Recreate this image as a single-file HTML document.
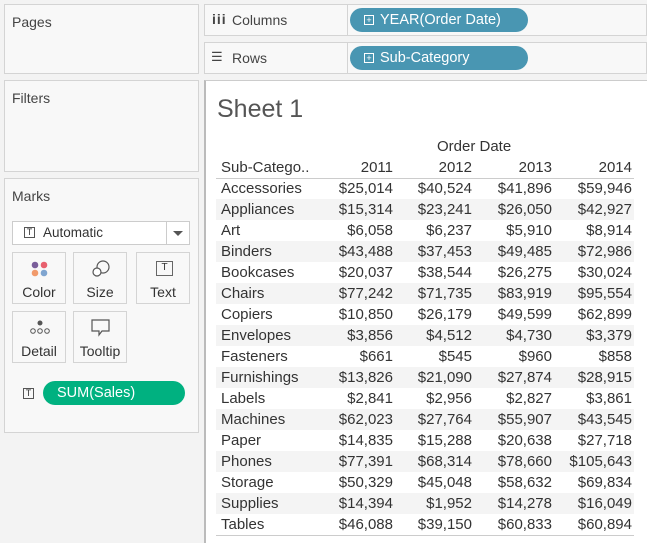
<!DOCTYPE html>
<html><head><style>
*{margin:0;padding:0;box-sizing:border-box}
body{width:647px;height:543px;background:#f3f3f3;font-family:"Liberation Sans",sans-serif;position:relative;overflow:hidden;color:#333}
.box{position:absolute;background:#f8f8f8;border:1px solid #d4d4d4}
.lbl{position:absolute;font-size:14px;color:#444}
.pill{position:absolute;background:#4996b2;color:#fff;border-radius:12px;font-size:14.5px;padding-left:14px;line-height:24px}
.pill span{display:inline-block;width:10px;height:10px;border:1px solid #fff;font-size:9px;line-height:8px;text-align:center;margin-right:6px;vertical-align:1px}
.btn{position:absolute;width:54px;height:52px;border:1px solid #d4d4d4;background:#f8f8f8;font-size:14px;text-align:center;color:#333}
.btn .t{position:absolute;bottom:3px;left:0;right:0}
.canvas{position:absolute;left:204px;top:80px;width:443px;height:463px;background:#fff;border-left:2px solid #bbb;border-top:1px solid #ccc}
table{position:absolute;left:10px;top:76px;border-collapse:collapse;font-size:15px;width:418px;table-layout:fixed}
td{height:21px;padding:0;text-align:right;white-space:nowrap}
td:first-child{text-align:left;padding-left:5px}
td:last-child{padding-right:2px}
tr.s td{background:#f4f4f4}
</style></head><body>
<div class="box" style="left:4px;top:4px;width:195px;height:70px"></div>
<div class="lbl" style="left:12px;top:14px">Pages</div>
<div class="box" style="left:4px;top:80px;width:195px;height:92px"></div>
<div class="lbl" style="left:12px;top:90px">Filters</div>
<div class="box" style="left:4px;top:178px;width:195px;height:255px"></div>
<div class="lbl" style="left:12px;top:188px">Marks</div>
<div style="position:absolute;left:12px;top:221px;width:178px;height:24px;border:1px solid #ccc;background:#fff;font-size:13.5px;line-height:22px;padding-left:30px">Automatic
<span style="position:absolute;left:11px;top:5px;width:11px;height:11px;border:1px solid #555;font-size:9px;line-height:9px;text-align:center">T</span>
<span style="position:absolute;right:0;top:0;width:23px;height:22px;border-left:1px solid #ccc"></span>
<span style="position:absolute;right:6px;top:9px;border-left:5px solid transparent;border-right:5px solid transparent;border-top:5px solid #555"></span></div>
<div class="btn" style="left:12px;top:252px"><svg style="position:absolute;left:18px;top:8px" width="18" height="18"><circle cx="4" cy="4" r="3.3" fill="#7a5e9a"/><circle cx="13" cy="4" r="3.3" fill="#e8606e"/><circle cx="4" cy="12" r="3.3" fill="#f19a6b"/><circle cx="13" cy="12" r="3.3" fill="#7fa5d0"/></svg><div class="t">Color</div></div>
<div class="btn" style="left:73px;top:252px"><svg style="position:absolute;left:17px;top:6px" width="20" height="20"><circle cx="12" cy="8" r="6" fill="none" stroke="#555" stroke-width="1.2"/><circle cx="6" cy="13" r="4" fill="#fff" stroke="#555" stroke-width="1.2"/></svg><div class="t">Size</div></div>
<div class="btn" style="left:136px;top:252px"><span style="position:absolute;left:19px;top:8px;width:17px;height:15px;border:1.5px solid #666;font-size:10px;line-height:12px">T</span><div class="t">Text</div></div>
<div class="btn" style="left:12px;top:311px"><svg style="position:absolute;left:16px;top:8px" width="22" height="16"><circle cx="11" cy="3" r="2.5" fill="#555"/><circle cx="4" cy="11" r="2.3" fill="none" stroke="#555"/><circle cx="11" cy="11" r="2.3" fill="none" stroke="#555"/><circle cx="18" cy="11" r="2.3" fill="none" stroke="#555"/></svg><div class="t">Detail</div></div>
<div class="btn" style="left:73px;top:311px"><svg style="position:absolute;left:17px;top:7px" width="20" height="18"><path d="M1 1H18V12H11L8 16V12H1Z" fill="none" stroke="#555" stroke-width="1.2"/></svg><div class="t">Tooltip</div></div>
<span style="position:absolute;left:23px;top:388px;width:11px;height:11px;border:1px solid #555;font-size:9px;line-height:9px;text-align:center">T</span>
<div style="position:absolute;left:43px;top:381px;width:142px;height:24px;border-radius:12px;background:#00b180;color:#fff;font-size:14.5px;line-height:24px;padding-left:14px">SUM(Sales)</div>

<div class="box" style="left:204px;top:4px;width:443px;height:32px"></div>
<div style="position:absolute;left:347px;top:5px;width:1px;height:30px;background:#d4d4d4"></div>
<div class="lbl" style="left:212px;top:11px;font-weight:bold;letter-spacing:1px">iii</div>
<div class="lbl" style="left:232px;top:12px">Columns</div>
<div class="pill" style="left:350px;top:8px;width:178px"><span>+</span>YEAR(Order Date)</div>
<div class="box" style="left:204px;top:42px;width:443px;height:32px"></div>
<div style="position:absolute;left:347px;top:43px;width:1px;height:30px;background:#d4d4d4"></div>
<div class="lbl" style="left:211px;top:49px;font-size:13px">&#9776;</div>
<div class="lbl" style="left:232px;top:50px">Rows</div>
<div class="pill" style="left:350px;top:46px;width:178px"><span>+</span>Sub-Category</div>

<div class="canvas">
<div style="position:absolute;left:11px;top:14px;font-size:25px;color:#555;font-weight:300">Sheet 1</div>
<div style="position:absolute;left:231px;top:57px;font-size:15px">Order Date</div>
<table>
<colgroup><col style="width:100px"><col style="width:77px"><col style="width:79px"><col style="width:80px"><col style="width:82px"></colgroup>
<tr style="border-bottom:1px solid #ccc"><td>Sub-Catego..</td><td>2011</td><td>2012</td><td>2013</td><td>2014</td></tr>
<tr><td>Accessories</td><td>$25,014</td><td>$40,524</td><td>$41,896</td><td>$59,946</td></tr>
<tr class="s"><td>Appliances</td><td>$15,314</td><td>$23,241</td><td>$26,050</td><td>$42,927</td></tr>
<tr><td>Art</td><td>$6,058</td><td>$6,237</td><td>$5,910</td><td>$8,914</td></tr>
<tr class="s"><td>Binders</td><td>$43,488</td><td>$37,453</td><td>$49,485</td><td>$72,986</td></tr>
<tr><td>Bookcases</td><td>$20,037</td><td>$38,544</td><td>$26,275</td><td>$30,024</td></tr>
<tr class="s"><td>Chairs</td><td>$77,242</td><td>$71,735</td><td>$83,919</td><td>$95,554</td></tr>
<tr><td>Copiers</td><td>$10,850</td><td>$26,179</td><td>$49,599</td><td>$62,899</td></tr>
<tr class="s"><td>Envelopes</td><td>$3,856</td><td>$4,512</td><td>$4,730</td><td>$3,379</td></tr>
<tr><td>Fasteners</td><td>$661</td><td>$545</td><td>$960</td><td>$858</td></tr>
<tr class="s"><td>Furnishings</td><td>$13,826</td><td>$21,090</td><td>$27,874</td><td>$28,915</td></tr>
<tr><td>Labels</td><td>$2,841</td><td>$2,956</td><td>$2,827</td><td>$3,861</td></tr>
<tr class="s"><td>Machines</td><td>$62,023</td><td>$27,764</td><td>$55,907</td><td>$43,545</td></tr>
<tr><td>Paper</td><td>$14,835</td><td>$15,288</td><td>$20,638</td><td>$27,718</td></tr>
<tr class="s"><td>Phones</td><td>$77,391</td><td>$68,314</td><td>$78,660</td><td>$105,643</td></tr>
<tr><td>Storage</td><td>$50,329</td><td>$45,048</td><td>$58,632</td><td>$69,834</td></tr>
<tr class="s"><td>Supplies</td><td>$14,394</td><td>$1,952</td><td>$14,278</td><td>$16,049</td></tr>
<tr style="border-bottom:1px solid #ccc"><td>Tables</td><td>$46,088</td><td>$39,150</td><td>$60,833</td><td>$60,894</td></tr>
</table>
</div>
</body></html>
